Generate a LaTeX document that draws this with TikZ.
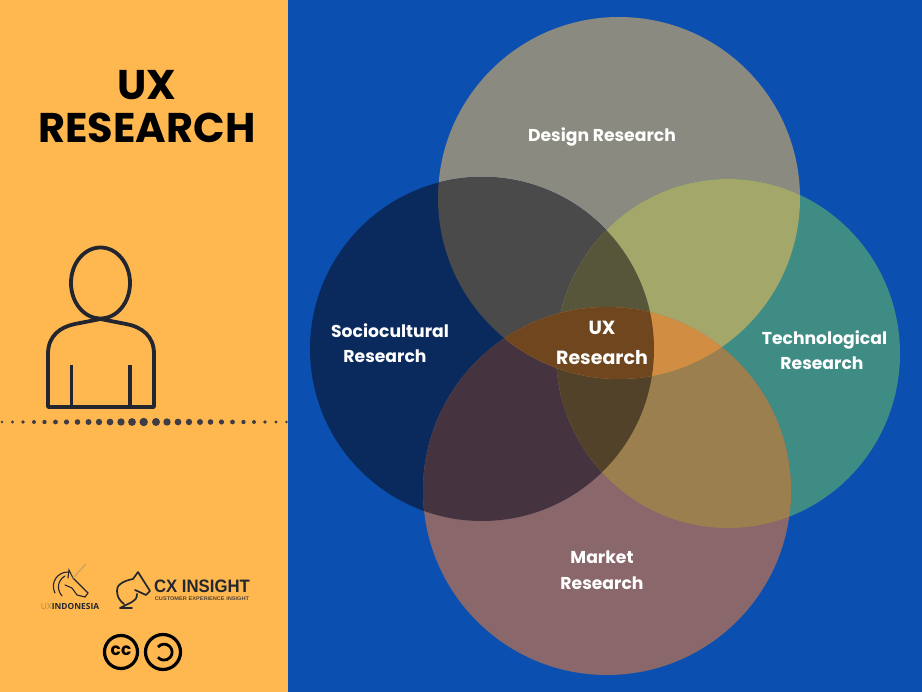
\documentclass[tikz,border=0pt]{standalone}
\usepackage{fontspec}
\setmainfont{Poppins}
\newfontfamily\logofont{Open Sans}
\newfontfamily\narrowfont{Liberation Sans}
\usetikzlibrary{arrows.meta}

\definecolor{panel}{HTML}{FFB850}
\definecolor{deepblue}{HTML}{0B50B0}
\definecolor{ink}{HTML}{23262E}

\newcommand{\topdisc}{(619,198) circle (181)}
\newcommand{\leftdisc}{(482,349) circle (172)}
\newcommand{\rightdisc}{(728,353.5) ellipse (172 and 174.5)}
\newcommand{\lowdisc}{(607,491) circle (184)}

\begin{document}
\begin{tikzpicture}[x=1pt,y=-1pt,
    title/.style={font=\bfseries\fontsize{41.5}{43}\selectfont,align=center,text=black},
    venn/.style={font=\bfseries\fontsize{17.2}{25.5}\selectfont,align=center,text=white},
    icon/.style={draw=ink,line width=3.8pt}]
\useasboundingbox (0,0) rectangle (922,692);
\fill[deepblue] (0,0) rectangle (922,692);
\fill[panel] (0,0) rectangle (288,692);

% discs and their overlaps
\begin{scope}
    \clip (288,0) rectangle (922,692);
    \fill[color={rgb,255:red,138;green,138;blue,128}] \topdisc;
    \fill[color={rgb,255:red,10;green,42;blue,94}] \leftdisc;
    \fill[color={rgb,255:red,63;green,140;blue,133}] \rightdisc;
    \fill[color={rgb,255:red,137;green,103;blue,107}] \lowdisc;
    \begin{scope} \clip \topdisc; \fill[color={rgb,255:red,74;green,74;blue,74}] \leftdisc; \end{scope}
    \begin{scope} \clip \topdisc; \fill[color={rgb,255:red,164;green,167;blue,106}] \rightdisc; \end{scope}
    \begin{scope} \clip \lowdisc; \fill[color={rgb,255:red,69;green,52;blue,63}] \leftdisc; \end{scope}
    \begin{scope} \clip \lowdisc; \fill[color={rgb,255:red,156;green,127;blue,79}] \rightdisc; \end{scope}
    \begin{scope} \clip \leftdisc; \clip \rightdisc; \fill[color={rgb,255:red,87;green,86;blue,58}] \topdisc; \end{scope}
    \begin{scope} \clip \leftdisc; \clip \rightdisc; \fill[color={rgb,255:red,82;green,66;blue,41}] \lowdisc; \end{scope}
    \begin{scope} \clip \topdisc; \fill[color={rgb,255:red,209;green,142;blue,66}] \lowdisc; \end{scope}
    \begin{scope} \clip \topdisc; \clip \lowdisc; \fill[color={rgb,255:red,112;green,70;blue,31}] \leftdisc; \end{scope}
\end{scope}

\begin{scope}[every node/.style={venn}]
    \node (design) at (602,137) {Design Research};
    \node (socio) at (390,343) {Sociocultural\\\hspace*{-10pt}Research};
    \node (techno) at (824.5,350) {Technological\\\hspace*{-5pt}Research};
    \node (market) at (602,570) {Market\\Research};
    \node[font=\bfseries\fontsize{19}{30}\selectfont] (uxres) at (602,342.5) {UX\\Research};
\end{scope}

\node[title] (heading) at (147,107) {UX\\RESEARCH};

% person
\draw[icon] (100.5,283) ellipse (29.5 and 35.5);
\draw[icon,line join=round] (48,407) -- (48,354) .. controls (48,336) and (60,327) .. (75,324)
    -- (100.5,319) -- (126,324) .. controls (142,327) and (154,336) .. (154,354) -- (154,407) -- cycle;
\draw[icon] (71.5,365) -- (71.5,407);
\draw[icon] (130,365) -- (130,407);

% dotted line
\foreach \x/\r in {2/1.4,12.5/1.6,23/1.8,34/2,44.5/2.2,55.5/2.4,66.5/2.6,77.5/2.8,88.5/3,99/3.2,110/3.4,121/3.7,132/3.9,143.7/4.2,156/4,167/3.7,178/3.4,189/3.2,200/3,210.5/2.8,221.5/2.6,232.5/2.4,243.5/2.2,254/2,265/1.8,276/1.6,286.5/1.4}
    \fill[color={rgb,255:red,64;green,60;blue,68}] (\x,422) circle (\r);

% unicorn logo
\draw[ink,line width=1.1pt,line cap=round] (68,572) .. controls (57,572) and (50,583) .. (55,593)
    (65,576) .. controls (58,580) and (56,589) .. (62,596)
    (68,578) -- (69,570) -- (73,578) -- (88,593) -- (85,597) -- (77,595) -- (72,588) -- (65,585);
\draw[color={rgb,255:red,205;green,160;blue,90},line width=1.1pt] (86,564) -- (73,578);
\node[font=\logofont\bfseries\fontsize{8.4}{9}\selectfont,text=ink,inner sep=0pt] (uxindo) at (70,606)
    {\textcolor{ink!35!panel}{\mdseries UX}INDONESIA};

% horse logo
\draw[ink,line width=1.7pt,line join=round,line cap=round] (138,572) -- (150,591) -- (146,595) -- (135,590)
    (138,572) -- (133,579) .. controls (122,581) and (116,586) .. (117,591) .. controls (117,597) and (120,601) .. (124,604)
    (137,594) .. controls (137,598) and (135,601) .. (132,602) -- (120,608) -- (132,608);
\node[font=\narrowfont\bfseries\fontsize{18}{18}\selectfont,text=ink,xscale=.93,inner sep=0pt] (cxname) at (202,586.5) {CX INSIGHT};
\node[font=\narrowfont\bfseries\fontsize{5.2}{5.2}\selectfont,text=ink!80!panel,xscale=1.08,inner sep=0pt] (cxsub) at (202,599) {CUSTOMER EXPERIENCE INSIGHT};

% licence badges
\draw[black,line width=3.2pt] (121,652) circle (16.5);
\node[font=\bfseries\fontsize{17}{17}\selectfont,text=black,inner sep=0pt] (ccmark) at (121,651) {cc};
\draw[black,line width=3.2pt] (163,652) circle (17.5);
\draw[black,line width=2.8pt] (158,647) arc (-140:140:8);
\end{tikzpicture}
\end{document}
